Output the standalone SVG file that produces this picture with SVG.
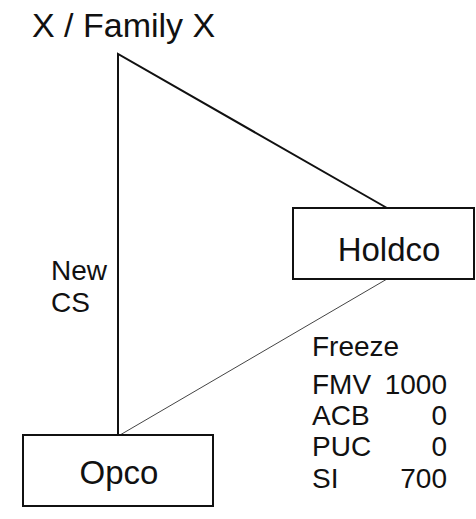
<svg xmlns="http://www.w3.org/2000/svg" width="476" height="519" viewBox="0 0 476 519">
<style>
text{font-family:"Liberation Sans",Arial,sans-serif;fill:#111}
.box{fill:#fff;stroke:#111;stroke-width:2}
.big{font-size:33px}
.lbl{font-size:28px}
</style>
<rect width="476" height="519" fill="#fff"/>
<text x="32" y="37" font-size="34">X / Family X</text>
<g id="connectors" fill="none">
<polyline points="387,208 118,54 118,435" stroke="#111" stroke-width="2"/>
<line x1="387" y1="279" x2="120" y2="435" stroke="#444" stroke-width="1"/>
</g>
<g id="holdco">
<rect class="box" x="293" y="208" width="181" height="71"/>
<text class="big" x="389" y="261" text-anchor="middle">Holdco</text>
</g>
<g id="opco">
<rect class="box" x="23" y="435" width="190" height="71"/>
<text class="big" x="119" y="484" text-anchor="middle">Opco</text>
</g>
<g id="labels" class="lbl">
<text x="51" y="280">New</text>
<text x="51" y="312">CS</text>
<text x="312" y="356">Freeze</text>
<text x="312" y="394">FMV</text>
<text x="447" y="394" text-anchor="end">1000</text>
<text x="312" y="425">ACB</text>
<text x="447" y="425" text-anchor="end">0</text>
<text x="312" y="456">PUC</text>
<text x="447" y="456" text-anchor="end">0</text>
<text x="312" y="488">SI</text>
<text x="447" y="488" text-anchor="end">700</text>
</g>
</svg>
